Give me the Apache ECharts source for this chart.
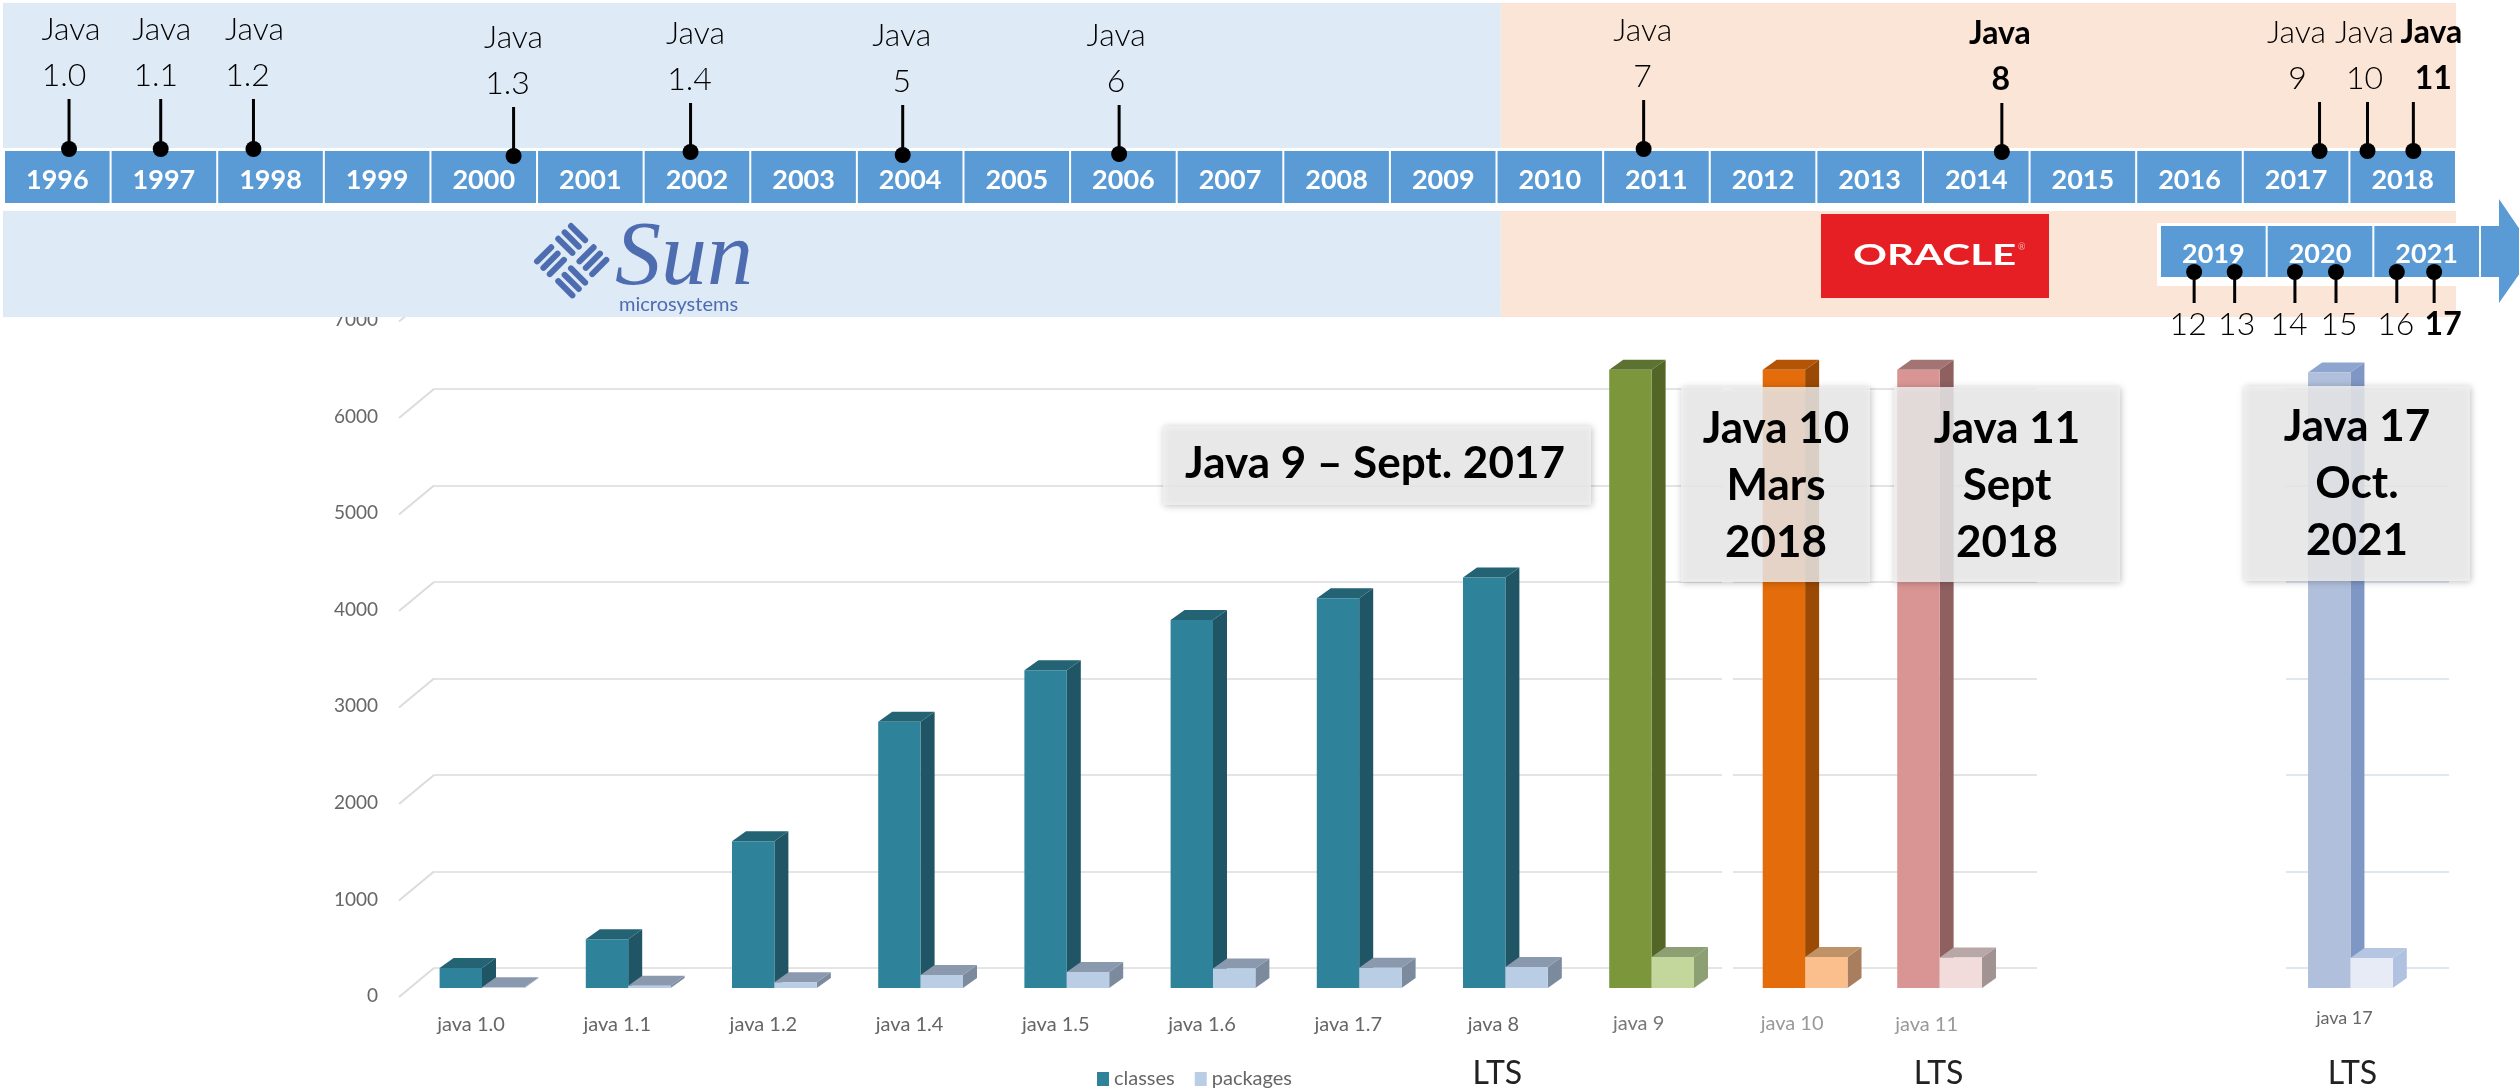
<!DOCTYPE html>
<html>
<head>
<meta charset="utf-8">
<style>html,body{margin:0;padding:0;background:#fff}#c{width:2519px;height:1091px}</style>
<script src="https://cdn.jsdelivr.net/npm/echarts@6/dist/echarts.min.js"></script>
</head>
<body>
<div id="c"></div>
<script>
// ---------- data ----------
const versions = ['java 1.0','java 1.1','java 1.2','java 1.4','java 1.5','java 1.6','java 1.7','java 8','java 9','java 10','java 11','java 17'];
const versionSlots = [0,1,2,3,4,5,6,7,8,9.05,9.97,12.78];
const classesValues = [207,504,1520,2757,3290,3810,4035,4250,6400,6400,6400,6372];
const packagesValues = [8,23,59,135,165,203,209,217,320,320,315,310];
const ltsVersions = ['java 8','java 11','java 17'];
const yTicks = [0,1000,2000,3000,4000,5000,6000,7000];

const years = [];
for (let y = 1996; y <= 2018; y++) years.push(y);
const futureYears = [2019,2020,2021];
const eras = [['Sun',1996,2010.04],['Oracle',2010.04,2019]];

const releaseNames = ['1.0','1.1','1.2','1.3','1.4','5','6','7','8','9','10','11'];
const releaseYears = [1996.61,1997.47,1998.34,2000.78,2002.44,2004.43,2006.46,2011.38,2014.74,2017.72,2018.17,2018.60];
const futureNames = ['12','13','14','15','16','17'];
const futureReleaseYears = [2019.32,2019.70,2020.265,2020.65,2021.22,2021.57];
const boldReleases = ['8','11','17'];

// ---------- layout and styles ----------
const releaseLayout = [ // stem top, dot level, "Java" dx, number dx
 [99,149,2,-5],[99,149,1,-5],[99,149,1,-6],[107,156,0,-6],[103,152,5,-1],[105,155,-1,-1],
 [105,154,-3,-3],[100,149,-1,-1],[103,152,-2,-1],[102,151,-23,-22],[102,151,-3,-3],[102,151,18,20]];
const labelDx = [-11,-11,-11,-11,-11,-11,-11,-12,-13,-13,-13,-6];
const labelDy = [37,37,37,37,37,37,37,37,36,36,37,30];
const labelColor = ['#666','#666','#666','#666','#666','#666','#666','#666','#777','#999','#999','#666'];
const ltsDx = {'java 8':-8,'java 11':-1,'java 17':2};
const classFront = ['#2e8299','#2e8299','#2e8299','#2e8299','#2e8299','#2e8299','#2e8299','#2e8299','#7c963c','#e46c0a','#d99594','#b0bfdb'];
const classSide  = ['#205565','#205565','#205565','#205565','#205565','#205565','#205565','#205565','#536628','#9b4a05','#8e6060','#7f97c5'];
const classTop   = ['#246374','#246374','#246374','#246374','#246374','#246374','#246374','#246374','#5c7231','#b35505','#a27474','#8ea5d0'];
const pkgFront = ['#b9cde5','#b9cde5','#b9cde5','#b9cde5','#b9cde5','#b9cde5','#b9cde5','#b9cde5','#c3d69b','#fbbf8d','#f2dcdb','#e7ebf5'];
const pkgSide  = ['#7b8a9c','#7b8a9c','#7b8a9c','#7b8a9c','#7b8a9c','#7b8a9c','#7b8a9c','#7b8a9c','#8da074','#a97e5e','#a29393','#b1c2e0'];
const pkgTop   = ['#8b99ae','#8b99ae','#8b99ae','#8b99ae','#8b99ae','#8b99ae','#8b99ae','#8b99ae','#8da074','#bf9268','#b7a7a7','#b5c6e3'];
const FONT = 'Lato';
const CALLOUT = {fill:'rgba(240,240,240,0.82)',shadowBlur:7,shadowColor:'rgba(0,0,0,0.3)',shadowOffsetX:1,shadowOffsetY:1};
const DX = 14, DY = 10, BAR = 0.29;
const SUN = '#4e6cb0';

function bar3d(offsetSide, front, side, top) {
  return function (params, api) {
    const i = params.dataIndex;
    const slot = api.value(0), v = api.value(1);
    const w = api.size([BAR,0])[0];
    const b = api.coord([slot,0]), t = api.coord([slot,v]);
    const x0 = b[0] + (offsetSide ? 0 : -w), x1 = x0 + w, y0 = t[1], y1 = b[1];
    return {type:'group',children:[
      {type:'polygon',shape:{points:[[x1,y0],[x1+DX,y0-DY],[x1+DX,y1-DY],[x1,y1]]},style:{fill:side[i]}},
      {type:'polygon',shape:{points:[[x0,y0],[x0+DX,y0-DY],[x1+DX,y0-DY],[x1,y0]]},style:{fill:top[i]}},
      {type:'rect',shape:{x:x0,y:y0,width:w,height:y1-y0},style:{fill:front[i]}}
    ]};
  };
}
function text(t,x,y,size,fill,weight,align){
  return {type:'text',style:{text:t,x:x,y:y,fontFamily:FONT,fontSize:size,fontWeight:weight||'normal',fill:fill,align:align||'center',verticalAlign:'middle'}};
}
function cell(api,label,y0,y1){
  const a = api.coord([label,y0]), b = api.coord([label,y1]);
  const w = api.size([1,0])[0];
  return {type:'group',children:[
    {type:'rect',shape:{x:a[0]+1,y:a[1],width:w-2,height:b[1]-a[1]},style:{fill:'#5b9bd5'}},
    text(String(label),a[0]+w/2,(a[1]+b[1])/2+3,27,'#fff','bold')
  ]};
}
function stem(x,yFrom,yTo,yDot){
  return [
    {type:'line',shape:{x1:x,y1:yFrom,x2:x,y2:yTo},style:{stroke:'#000',lineWidth:3}},
    {type:'circle',shape:{cx:x,cy:yDot,r:8},style:{fill:'#000'}}
  ];
}
const hiddenX = (g,min,max)=>({type:'value',gridIndex:g,min:min,max:max,show:false});
const hiddenY = (g,min,max,inv)=>({type:'value',gridIndex:g,min:min,max:max,show:false,inverse:!!inv});
const wallY = (g,color)=>({type:'value',gridIndex:g,min:0,max:7000,interval:1000,axisLabel:{show:false},axisLine:{show:false},axisTick:{show:false},splitLine:{show:true,lineStyle:{color:color,width:2}}});
const sunBar = (x1,y1,x2,y2)=>({type:'line',z:20,shape:{x1,y1,x2,y2},style:{stroke:SUN,lineWidth:6,lineCap:'round'}});

const option = {
  animation:false,
  backgroundColor:'#fff',
  grid:[
    {left:335.8,width:2046.8,top:311.8,height:676.2},
    {left:388,width:10,top:320,height:676},
    {left:434,width:1288,top:292.5,height:675.5},
    {left:1733,width:304,top:292.5,height:675.5},
    {left:2286,width:163,top:292.5,height:675.5},
    {left:4,width:2452,top:0,height:340},
    {left:2160,width:320,top:0,height:340}
  ],
  xAxis:[hiddenX(0,-1,13),hiddenX(1,0,1),hiddenX(2,0,1),hiddenX(3,0,1),hiddenX(4,0,1),hiddenX(5,1996,2019),hiddenX(6,2019,2022)],
  yAxis:[
    hiddenY(0,0,7000),
    {type:'value',gridIndex:1,min:0,max:7000,interval:1000,axisLine:{show:false},axisTick:{show:false},splitLine:{show:false},
     axisLabel:{show:true,margin:10,fontFamily:FONT,fontSize:19,color:'#666',showMaxLabel:true,showMinLabel:true,formatter:v=>String(v)}},
    wallY(2,'#e4e4e4'),wallY(3,'#e4e4e4'),wallY(4,'#e0e7f2'),
    hiddenY(5,0,340,true),hiddenY(6,0,340,true)
  ],
  legend:{
    data:['classes','packages'],left:1092,top:1064,itemWidth:12,itemHeight:14,itemGap:20,icon:'rect',
    textStyle:{fontFamily:FONT,fontSize:20,color:'#666'},selectedMode:false
  },
  series:[
    { // wall edge ticks
      type:'custom',name:'wall',xAxisIndex:2,yAxisIndex:2,z:1,silent:true,clip:false,
      data:yTicks.map(v=>[0,v]),encode:{x:0,y:1},
      renderItem(p,api){
        const c = api.coord([0,api.value(1)]);
        return {type:'line',shape:{x1:c[0],y1:c[1],x2:c[0]-35,y2:c[1]+29},style:{stroke:'#dcdcdc',lineWidth:2}};
      }
    },
    {
      type:'custom',name:'classes',xAxisIndex:0,yAxisIndex:0,z:3,silent:true,clip:false,
      itemStyle:{color:'#2e8299'},
      data:versionSlots.map((s,i)=>[s,classesValues[i]]),encode:{x:0,y:1},
      renderItem:bar3d(false,classFront,classSide,classTop)
    },
    {
      type:'custom',name:'packages',xAxisIndex:0,yAxisIndex:0,z:4,silent:true,clip:false,
      itemStyle:{color:'#b9cde5'},
      data:versionSlots.map((s,i)=>[s,packagesValues[i]]),encode:{x:0,y:1},
      renderItem:bar3d(true,pkgFront,pkgSide,pkgTop)
    },
    { // version labels and LTS marks
      type:'custom',name:'versionLabels',xAxisIndex:0,yAxisIndex:0,z:5,silent:true,clip:false,
      data:versionSlots.map(s=>[s,0]),encode:{x:0,y:1},
      renderItem(p,api){
        const i = p.dataIndex, c = api.coord([api.value(0),0]);
        const kids = [text(versions[i],c[0]+labelDx[i],c[1]+labelDy[i],i===11?18:20,labelColor[i])];
        if (ltsVersions.includes(versions[i])) kids.push(text('LTS',c[0]+ltsDx[versions[i]],c[1]+86,32,'#222'));
        return {type:'group',children:kids};
      }
    },
    { // Sun / Oracle era bands
      type:'custom',name:'eras',xAxisIndex:5,yAxisIndex:5,z:10,silent:true,clip:false,
      data:eras.map(e=>[e[1],e[2]]),encode:{x:[0,1]},
      renderItem(p,api){
        const a = api.coord([api.value(0),3]), b = api.coord([api.value(1),317]);
        return {type:'rect',shape:{x:a[0]-(p.dataIndex?0:1),y:a[1],width:b[0]-a[0]+(p.dataIndex?0:1),height:b[1]-a[1]},
          style:{fill:p.dataIndex?'#fbe5d6':'#deeaf6'}};
      }
    },
    { // white band behind the year strip
      type:'custom',name:'stripBack',xAxisIndex:5,yAxisIndex:5,z:11,silent:true,clip:false,
      data:[[1996,2019]],encode:{x:[0,1]},
      renderItem(p,api){
        const a = api.coord([api.value(0),148]), b = api.coord([api.value(1),211]);
        return {type:'rect',shape:{x:a[0]-1,y:a[1],width:b[0]-a[0]+1,height:b[1]-a[1]},style:{fill:'#fff'}};
      }
    },
    {
      type:'custom',name:'years',xAxisIndex:5,yAxisIndex:5,z:12,silent:true,clip:false,
      data:years.map(y=>[y]),encode:{x:0},
      renderItem(p,api){ return cell(api,api.value(0),151,203); }
    },
    {
      type:'custom',name:'releases',xAxisIndex:5,yAxisIndex:5,z:13,silent:true,clip:false,
      data:releaseYears.map(y=>[y]),encode:{x:0},
      renderItem(p,api){
        const i = p.dataIndex, L = releaseLayout[i], n = releaseNames[i];
        const x = api.coord([api.value(0),0])[0];
        const w = boldReleases.includes(n) ? 'bold' : 300;
        return {type:'group',children:stem(x,L[0],L[1],L[1]).concat([
          text('Java',x+L[2],L[0]-69,32,'#000',w),
          text(n,x+L[3],L[0]-23,32,'#000',w)
        ])};
      }
    },
    { // 2019+ strip: white back and arrow
      type:'custom',name:'futureBack',xAxisIndex:6,yAxisIndex:6,z:11,silent:true,clip:false,
      data:[[2019,2022]],encode:{x:[0,1]},
      renderItem(p,api){
        const a = api.coord([api.value(0),223]), b = api.coord([api.value(1),286]);
        const m = api.coord([api.value(1),226]), n = api.coord([api.value(1),277]), mid = (m[1]+n[1])/2;
        return {type:'group',children:[
          {type:'rect',shape:{x:a[0]-3,y:a[1],width:b[0]-a[0]+3,height:b[1]-a[1]},style:{fill:'#fff'}},
          {type:'polygon',shape:{points:[[b[0]+1,m[1]],[b[0]+19,m[1]],[b[0]+19,199],[b[0]+55,mid],[b[0]+19,303],[b[0]+19,n[1]],[b[0]+1,n[1]]]},style:{fill:'#5b9bd5'}}
        ]};
      }
    },
    {
      type:'custom',name:'futureYears',xAxisIndex:6,yAxisIndex:6,z:12,silent:true,clip:false,
      data:futureYears.map(y=>[y]),encode:{x:0},
      renderItem(p,api){ return cell(api,api.value(0),226,277); }
    },
    {
      type:'custom',name:'futureReleases',xAxisIndex:6,yAxisIndex:6,z:13,silent:true,clip:false,
      data:futureReleaseYears.map(y=>[y]),encode:{x:0},
      renderItem(p,api){
        const n = futureNames[p.dataIndex];
        const x = api.coord([api.value(0),0])[0];
        const w = boldReleases.includes(n) ? 'bold' : 300;
        const dx = [-6,2,-6,3,-1,9][p.dataIndex];
        return {type:'group',children:stem(x,272,303,272).concat([text(n,x+dx,325,32,'#000',w)])};
      }
    }
  ],
  graphic:{elements:[
    // Sun logo
    {type:'group',x:571.7,y:260.7,rotation:Math.PI/4,children:[].concat(
      [-24,-15,-6].map(y=>sunBar(-25,y,-5,y)),
      [6,15,24].map(x=>sunBar(x,-25,x,-5)),
      [6,15,24].map(y=>sunBar(5,y,25,y)),
      [-24,-15,-6].map(x=>sunBar(x,5,x,25))
    )},
    {type:'text',z:20,style:{text:'Sun',x:615,y:260,fontFamily:'Liberation Serif',fontStyle:'italic',fontSize:92,fill:SUN,align:'left',verticalAlign:'middle'}},
    {type:'text',z:20,style:{text:'microsystems',x:619,y:305,fontFamily:FONT,fontSize:20,fill:SUN,align:'left',verticalAlign:'middle'}},
    // Oracle logo
    {type:'rect',z:20,shape:{x:1821,y:214,width:228,height:84},style:{fill:'#e51f23'}},
    {type:'text',z:21,x:1853,y:256,scaleX:1.45,style:{text:'ORACLE',x:0,y:0,fontFamily:FONT,fontSize:29,fontWeight:'bold',fill:'#fff',align:'left',verticalAlign:'middle'}},
    {type:'text',z:21,style:{text:'®',x:2018,y:247,fontFamily:FONT,fontSize:9,fill:'#f4b5b5',align:'left',verticalAlign:'middle'}},
    // Callouts
    {type:'rect',z:30,shape:{x:1163,y:426,width:428,height:79},style:CALLOUT},
    {type:'text',z:31,style:{text:'Java 9 – Sept. 2017',x:1375,y:464,fontFamily:FONT,fontSize:44,fontWeight:'bold',fill:'#000',align:'center',verticalAlign:'middle'}},
    {type:'rect',z:30,shape:{x:1681,y:387,width:189,height:195},style:CALLOUT},
    {type:'text',z:31,style:{text:'Java 10\nMars\n2018',x:1776,y:486,fontFamily:FONT,fontSize:44,lineHeight:57,fontWeight:'bold',fill:'#000',align:'center',verticalAlign:'middle'}},
    {type:'rect',z:30,shape:{x:1894,y:387,width:226,height:195},style:CALLOUT},
    {type:'text',z:31,style:{text:'Java 11\nSept\n2018',x:2007,y:486,fontFamily:FONT,fontSize:44,lineHeight:57,fontWeight:'bold',fill:'#000',align:'center',verticalAlign:'middle'}},
    {type:'rect',z:30,shape:{x:2244,y:386,width:226,height:195},style:CALLOUT},
    {type:'text',z:31,style:{text:'Java 17\nOct.\n2021',x:2357,y:484,fontFamily:FONT,fontSize:44,lineHeight:57,fontWeight:'bold',fill:'#000',align:'center',verticalAlign:'middle'}}
  ]}
};
echarts.init(document.getElementById('c'),null,{renderer:'canvas'}).setOption(option);
</script>
</body>
</html>
